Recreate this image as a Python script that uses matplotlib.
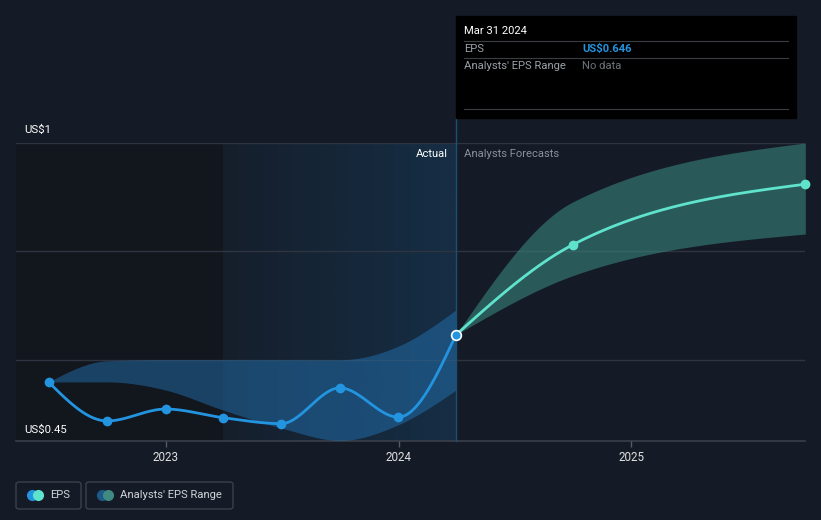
import numpy as np
import matplotlib
matplotlib.use("Agg")
import matplotlib.pyplot as plt
from matplotlib.patches import FancyBboxPatch, Rectangle
from matplotlib.lines import Line2D

plt.rcParams['font.family'] = ['Roboto', 'DejaVu Sans']

# ---------------- data ----------------
eps_dates = [2022.496, 2022.748, 2022.999, 2023.247, 2023.496, 2023.748, 2023.999, 2024.247]
eps_values = [0.559, 0.487, 0.509, 0.493, 0.482, 0.548, 0.494, 0.646]

fc_dates = [2024.247, 2024.748, 2025.748]
fc_values = [0.646, 0.812, 0.924]
fc_low = [0.646, 0.755, 0.832]
fc_high = [0.646, 0.891, 1.0]

hist_band_dates = eps_dates
hist_band_low = [0.559, 0.559, 0.544, 0.507, 0.474, 0.451, 0.480, 0.544]
hist_band_high = [0.559, 0.598, 0.600, 0.600, 0.600, 0.600, 0.625, 0.692]

year_ticks = [2023, 2024, 2025]
year_labels = ["2023", "2024", "2025"]
y_labels = {1.0: "US$1", 0.45: "US$0.45"}
grid_vals = [1.0, 0.8, 0.6]

tooltip_date = "Mar 31 2024"
tooltip_eps = "US$0.646"

# -------------- style ----------------
BG = '#151b26'
DARK = '#12161d'
BLUE = '#2394df'
TEAL = '#5fe3cc'
GRID = '#2e3440'
W, H = 821, 520
FS = 8.1


def hermite(x, y, m, n):
    h = np.diff(x)
    xs, ys = [], []
    for i in range(len(x) - 1):
        t = np.linspace(0, 1, n // (len(x) - 1) + 2)
        hh = h[i]
        h00 = 2 * t**3 - 3 * t**2 + 1
        h10 = t**3 - 2 * t**2 + t
        h01 = -2 * t**3 + 3 * t**2
        h11 = t**3 - t**2
        xs.append(x[i] + t * hh)
        ys.append(h00 * y[i] + h10 * hh * m[i] + h01 * y[i + 1] + h11 * hh * m[i + 1])
    return np.concatenate(xs), np.concatenate(ys)


def sgn(v):
    return -1.0 if v < 0 else 1.0


def monotone(x, y, n=240):
    """Smooth monotone curve (d3 curveMonotoneX tangents)."""
    x = np.asarray(x, float); y = np.asarray(y, float)
    h = np.diff(x); d = np.diff(y) / h
    m = np.zeros_like(y)
    for i in range(1, len(x) - 1):
        s0, s1 = d[i - 1], d[i]
        p = (s0 * h[i] + s1 * h[i - 1]) / (h[i - 1] + h[i])
        m[i] = (sgn(s0) + sgn(s1)) * min(abs(s0), abs(s1), 0.5 * abs(p))
    m[0] = (3 * d[0] - m[1]) / 2
    m[-1] = (3 * d[-1] - m[-2]) / 2
    return hermite(x, y, m, n)


fig = plt.figure(figsize=(W / 100, H / 100), dpi=100, facecolor=BG)

x0 = 2023 - (166 - 16) / 233.0
x1 = 2025 + (805 - 631) / 233.0
ax = fig.add_axes([16 / W, (H - 441) / H, (805 - 16) / W, (441 - 143) / H])
ax.set_facecolor(BG)
ax.set_xlim(x0, x1)
ax.set_ylim(0.45, 1.0)
for s in ax.spines.values():
    s.set_visible(False)
ax.set_yticks([])
ax.set_xticks(year_ticks)
ax.set_xticklabels(year_labels)
ax.tick_params(axis='x', colors='#555b66', length=4, width=1, labelcolor='#e0e0e0',
               labelsize=8.4, pad=3.5)

# dark past region
split = 2023.247
now = 2024.247
ax.axvspan(x0, split, color=DARK, zorder=0, lw=0)
# gradient highlight
grad = np.zeros((2, 256, 4))
rgb = matplotlib.colors.to_rgb('#1a73b5')
grad[..., 0], grad[..., 1], grad[..., 2] = rgb
grad[..., 3] = np.linspace(0.04, 0.22, 256)[None, :]
ax.imshow(grad, extent=[split, now, 0.45, 1.0], aspect='auto', zorder=0.5,
          interpolation='bicubic')

for g in grid_vals:
    ax.axhline(g, color=GRID, lw=1, zorder=1)
ax.axhline(0.45, color='#3a404a', lw=1.2, zorder=1, clip_on=False)

# bands
bx, bl = monotone(hist_band_dates, hist_band_low)
_, bh = monotone(hist_band_dates, hist_band_high)
ax.fill_between(bx, bl, bh, color='#2479bd', alpha=0.45, lw=0, zorder=2)
fx, fl = monotone(fc_dates, fc_low)
_, fh = monotone(fc_dates, fc_high)
ax.fill_between(fx, fl, fh, color='#3d8d84', alpha=0.55, lw=0, zorder=2)

# lines
ex, ey = monotone(eps_dates, eps_values)
ax.plot(ex, ey, color=BLUE, lw=2.0, zorder=4, solid_capstyle='round')
ax.plot(eps_dates[:-1], eps_values[:-1], 'o', color=BLUE, ms=6, zorder=5)
cx, cy = monotone(fc_dates, fc_values)
ax.plot(cx, cy, color=TEAL, lw=2.0, zorder=4, solid_capstyle='round')
ax.plot(fc_dates[1:], fc_values[1:], 'o', color=TEAL, ms=6, zorder=5, clip_on=False)
ax.plot([eps_dates[-1]], [eps_values[-1]], 'o', color=BLUE, ms=7, mec='white', mew=1.2,
        zorder=6)

# vertical now line
ax.plot([now, now], [0.45, 1.0 + (143 - 117) / 542.0], color='#1d4f73', lw=1,
        zorder=3, clip_on=False)

ax.text(now - 0.035, 0.98, "Actual", color='#ffffff', fontsize=FS, ha='right', va='center',
        zorder=7)
ax.text(now + 0.035, 0.98, "Analysts Forecasts", color='#8b9099', fontsize=FS, ha='left',
        va='center', zorder=7)


def fx_(px):
    return px / W


def fy_(py):
    return 1 - py / H


fig.text(fx_(24), fy_(130), y_labels[1.0], color='#ffffff', fontsize=8.2, va='center', ha='left')
fig.text(fx_(24), fy_(430), y_labels[0.45], color='#ffffff', fontsize=8.2, va='center', ha='left')

# tooltip
fig.patches.append(Rectangle((fx_(456), fy_(118)), (796 - 456) / W, (118 - 16) / H,
                             transform=fig.transFigure, color='#000000', zorder=10))
for yy in [41, 58, 109]:
    fig.add_artist(Line2D([fx_(464), fx_(788)], [fy_(yy), fy_(yy)], color='#3a3d42', lw=0.8,
                          transform=fig.transFigure, zorder=11))
fig.text(fx_(464), fy_(31), tooltip_date, color='#ffffff', fontsize=FS, va='center', zorder=12)
fig.text(fx_(464), fy_(49), "EPS", color='#9aa0a8', fontsize=FS, va='center', zorder=12)
fig.text(fx_(582), fy_(49), tooltip_eps, color=BLUE, fontsize=FS, va='center',
         fontweight='bold', zorder=12)
fig.text(fx_(464), fy_(66), "Analysts' EPS Range", color='#9aa0a8', fontsize=FS, va='center',
         zorder=12)
fig.text(fx_(582), fy_(66), "No data", color='#6e737b', fontsize=FS, va='center', zorder=12)


# legend
def legend_box(xa, xb, c1, c2, label):
    fig.patches.append(FancyBboxPatch((fx_(xa), fy_(509)), (xb - xa) / W, (509 - 482) / H,
                                      boxstyle="round,pad=0,rounding_size=0.004",
                                      transform=fig.transFigure, fc='none', ec='#3b404a',
                                      lw=1))
    fig.add_artist(Line2D([fx_(xa + 16)], [fy_(495)], marker='o', ms=7, color=c1,
                          transform=fig.transFigure, lw=0))
    fig.add_artist(Line2D([fx_(xa + 22)], [fy_(495)], marker='o', ms=7, color=c2,
                          transform=fig.transFigure, lw=0))
    fig.text(fx_(xa + 34), fy_(495), label, color='#d0d3d8', fontsize=FS, va='center')


legend_box(16, 81, BLUE, TEAL, "EPS")
legend_box(86, 233, '#1d5a89', '#3f8a82', "Analysts' EPS Range")

fig.savefig("out.png", dpi=100, facecolor=BG)
